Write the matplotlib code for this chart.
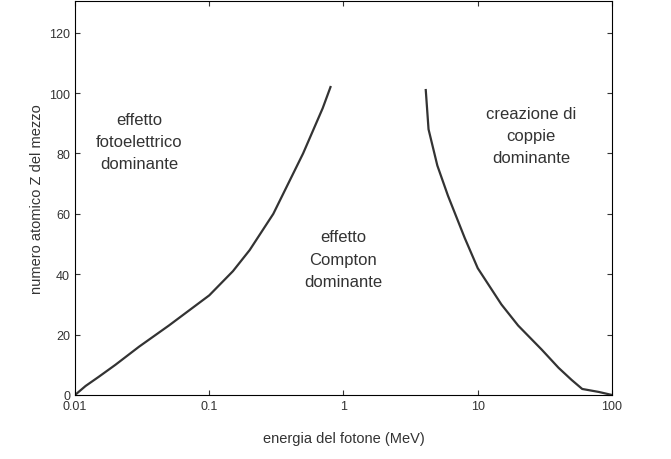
import matplotlib
matplotlib.use("Agg")
import matplotlib.pyplot as plt

plt.rcParams['font.family'] = ['Liberation Sans', 'DejaVu Sans']

# photoelectric / Compton boundary
left_e = [0.01, 0.012, 0.015, 0.02, 0.03, 0.05, 0.1, 0.15, 0.2, 0.3, 0.5, 0.7, 0.8]
left_z = [0, 3, 6, 10, 16, 23, 33, 41, 48, 60, 80, 95, 102]
# Compton / pair production boundary
right_e = [4.1, 4.3, 5, 6, 8, 10, 15, 20, 30, 40, 50, 60, 80, 100]
right_z = [101, 88, 76, 66, 52, 42, 30, 23, 15, 9, 5, 2, 1, 0]

fig = plt.figure(figsize=(6.71, 4.6), dpi=100)
ax = fig.add_axes([75/671, 64/460, 537/671, 394/460])
ax.plot(left_e, left_z, color="#333333", lw=1.6)
ax.plot(right_e, right_z, color="#333333", lw=1.6)
ax.set_xscale("log")
ax.set_xlim(0.01, 100)
ax.set_ylim(0, 130.5)
ax.set_yticks(range(0, 121, 20))
ax.set_xticks([0.01, 0.1, 1, 10, 100])
ax.set_xticklabels(["0.01", "0.1", "1", "10", "100"])
ax.tick_params(direction="in", which="both", top=True, right=True, labelsize=9, colors="#333333")
ax.minorticks_off()
ax.set_xlabel("energia del fotone (MeV)", fontsize=10.5, color="#333333", labelpad=14)
ax.set_ylabel("numero atomico Z del mezzo", fontsize=10.5, color="#333333")

kw = dict(fontsize=12, color="#333333", ha="center", va="center", linespacing=1.6)
ax.text(0.03, 84, "effetto\nfotoelettrico\ndominante", **kw)
ax.text(1, 45, "effetto\nCompton\ndominante", **kw)
ax.text(25, 86, "creazione di\ncoppie\ndominante", **kw)

fig.savefig("out.png", dpi=100)
